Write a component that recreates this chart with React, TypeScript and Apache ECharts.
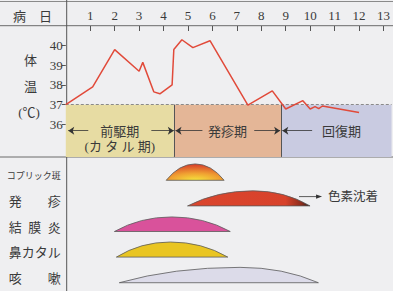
import React, { useEffect, useRef } from 'react';
import * as echarts from 'echarts';

// ---- data ----
const dayTicks = [1, 2, 3, 4, 5, 6, 7, 8, 9, 10, 11, 12, 13];
const tempTicks = [36, 37, 38, 39, 40];
const feverDays = [0, 1.1, 2, 3, 3.15, 3.6, 3.85, 4.35, 4.42, 4.75, 5.2, 5.9, 7.45, 8.45, 9, 9.7, 10, 10.2, 10.35, 10.5, 12];
const feverTemps = [37, 37.9, 39.8, 38.7, 39.15, 37.65, 37.55, 38, 39.8, 40.3, 39.9, 40.25, 36.97, 37.7, 36.78, 37.2, 36.78, 36.9, 36.8, 36.93, 36.6];

const phaseNames = ['前駆期\n(カ タ ル 期)', '発疹期', '回復期'];
const phaseStarts = [0, 4.42, 8.82];
const phaseEnds = [4.42, 8.82, 13.33];

const symptoms = ['コプリック斑', '発　　疹', '結\u2002膜\u2002炎', '鼻カタル', '咳　　嗽'];
const symptomStart = [4.09, 4.96, 1.98, 2.06, 2.18];
const symptomPeak = [5.27, 7.63, 4.32, 4.26, 7.1];
const symptomEnd = [6.45, 9.95, 6.7, 6.6, 10.29];
const symptomLevel = [0.64, 0.59, 0.57, 0.59, 0.6];
const symptomNotes = ['', '色素沈着', '', '', ''];

// ---- styles ----
const TXT = '#3a3a3a';
const FONT = "'Liberation Serif', 'Noto Sans CJK JP', serif";
const phaseColors = ['#e7dca3', '#e4b697', '#c9cbe1'];
const PHASE_FLOOR = 34.34;
const symptomFills: any[] = [
  {
    type: 'radial', x: 0.5, y: 1, r: 0.95,
    colorStops: [
      { offset: 0, color: '#f5e43c' },
      { offset: 0.45, color: '#f0a232' },
      { offset: 1, color: '#d9422a' },
    ],
  },
  {
    type: 'linear', x: 0, y: 0, x2: 1, y2: 0,
    colorStops: [
      { offset: 0, color: '#da452d' },
      { offset: 0.8, color: '#d8422b' },
      { offset: 0.93, color: '#8c2c1c' },
      { offset: 1, color: '#2c1a14' },
    ],
  },
  '#d9529b',
  '#e9c522',
  '#dcdbe9',
];

export default function App() {
  const ref = useRef<HTMLDivElement>(null);
  useEffect(() => {
    const chart = echarts.init(ref.current!, null, { renderer: 'svg' });

    const phaseArea = phaseNames.map((n, i) => [
      {
        name: n,
        xAxis: phaseStarts[i],
        yAxis: 37,
        itemStyle: { color: phaseColors[i] },
        label: i === 2 ? { offset: [5, 0] } : {},
      },
      { xAxis: phaseEnds[i], yAxis: PHASE_FLOOR },
    ]);

    const arrowY = 35.675;
    const arrowSegs: [number, number, boolean][] = [
      [0.1, 0.92, true],
      [3.5, 4.42, false],
      [4.49, 5.59, true],
      [7.71, 8.77, false],
      [8.86, 10.08, true],
    ];
    const arrowStyle = { color: '#333', width: 0.8, type: 'solid' };
    const markLines: any[] = [
      { yAxis: 37, lineStyle: { color: '#8a8a8a', width: 1, type: [3, 2] } },
      ...[phaseEnds[0], phaseEnds[1]].map((x) => [
        { coord: [x, 37], lineStyle: { color: '#555', width: 1, type: 'solid' } },
        { coord: [x, PHASE_FLOOR] },
      ]),
      ...arrowSegs.map(([a, b, left]) => [
        { coord: [a, arrowY], symbol: left ? 'arrow' : 'none', symbolSize: 6, lineStyle: arrowStyle },
        { coord: [b, arrowY], symbol: left ? 'none' : 'arrow', symbolSize: 6 },
      ]),
    ];

    const symptomData = symptoms.map((_, i) => [
      symptomStart[i], symptomPeak[i], symptomEnd[i], symptomLevel[i], i,
    ]);

    const option: any = {
      animation: false,
      backgroundColor: '#efeff1',
      textStyle: { fontFamily: FONT },
      grid: [
        { left: 65.8, top: 26, width: 327.2, height: 137.6 },
        { left: 65.8, top: 163, width: 327.2, height: 128 },
      ],
      xAxis: [
        {
          type: 'value', gridIndex: 0, position: 'top', min: 0, max: 13.33,
          axisLine: { show: false },
          splitLine: { show: false },
          axisTick: { show: true, inside: true, length: 5, customValues: dayTicks, lineStyle: { color: '#555' } },
          axisLabel: { customValues: dayTicks, margin: 4, fontSize: 13, color: TXT, fontFamily: FONT },
        },
        { type: 'value', gridIndex: 1, min: 0, max: 13.33, show: false },
      ],
      yAxis: [
        {
          type: 'value', gridIndex: 0, min: 34, max: 41,
          axisLine: { show: false },
          splitLine: { show: false },
          axisTick: { show: true, length: 4, customValues: tempTicks, lineStyle: { color: '#555' } },
          axisLabel: { customValues: tempTicks, margin: 3, fontSize: 13, color: TXT, fontFamily: FONT },
        },
        {
          type: 'category', gridIndex: 1, inverse: true, data: symptoms,
          axisLine: { show: false }, axisTick: { show: false }, splitLine: { show: false },
          axisLabel: {
            margin: 5, fontSize: 13, color: TXT, fontFamily: FONT,
            formatter: (v: string) => (v === 'コプリック斑' ? `{s|${v}}` : v),
            rich: { s: { fontSize: 9, color: TXT, fontFamily: FONT } },
          },
        },
      ],
      graphic: [
        { type: 'line', shape: { x1: 0, y1: 1.5, x2: 393, y2: 1.5 }, style: { stroke: '#8a8a8a', lineWidth: 1 } },
        { type: 'line', shape: { x1: 0, y1: 25.7, x2: 393, y2: 25.7 }, style: { stroke: '#6a6a6a', lineWidth: 1 } },
        { type: 'line', shape: { x1: 0, y1: 157, x2: 393, y2: 157 }, style: { stroke: '#6a6a6a', lineWidth: 1 } },
        { type: 'line', shape: { x1: 66.7, y1: 0, x2: 66.7, y2: 291 }, style: { stroke: '#555', lineWidth: 1 } },
        { type: 'text', x: 13, y: 16, style: { text: '病　日', fontSize: 13, fill: TXT, fontFamily: FONT, verticalAlign: 'middle' } },
        { type: 'text', x: 30.5, y: 60, style: { text: '体', fontSize: 13, fill: TXT, fontFamily: FONT, align: 'center', verticalAlign: 'middle' } },
        { type: 'text', x: 30.5, y: 86, style: { text: '温', fontSize: 13, fill: TXT, fontFamily: FONT, align: 'center', verticalAlign: 'middle' } },
        { type: 'text', x: 29, y: 112, style: { text: '(℃)', fontSize: 13, fill: TXT, fontFamily: FONT, align: 'center', verticalAlign: 'middle' } },
      ],
      series: [
        {
          type: 'line',
          xAxisIndex: 0, yAxisIndex: 0,
          data: feverDays.map((d, i) => [d, feverTemps[i]]),
          showSymbol: false,
          symbol: 'none',
          z: 5,
          lineStyle: { color: '#e14a3a', width: 1.5 },
          markArea: {
            silent: true,
            itemStyle: { borderWidth: 0 },
            label: {
              show: true, position: 'insideTop', distance: 19, fontSize: 13, lineHeight: 15,
              color: TXT, fontFamily: FONT, formatter: '{b}',
            },
            data: phaseArea,
          },
          markLine: {
            silent: true,
            symbol: 'none',
            label: { show: false },
            data: markLines,
          },
        },
        {
          type: 'custom',
          xAxisIndex: 1, yAxisIndex: 1,
          data: symptomData,
          encode: { x: [0, 1, 2], y: 4 },
          renderItem: (params: any, api: any) => {
            const s = api.value(0), p = api.value(1), e = api.value(2), h = api.value(3), row = api.value(4);
            const c0 = api.coord([s, row]);
            const band = api.size([0, 1])[1];
            const yb = c0[1] + band * 0.176;
            const top = yb - h * band;
            const x0 = c0[0];
            const xp = api.coord([p, row])[0];
            const x1 = api.coord([e, row])[0];
            const d = `M${x0} ${yb} Q${x0 + (xp - x0) * 0.45} ${top} ${xp} ${top} Q${xp + (x1 - xp) * 0.55} ${top} ${x1} ${yb} Z`;
            const children: any[] = [
              {
                type: 'path',
                shape: { pathData: d },
                style: { fill: symptomFills[params.dataIndex], stroke: '#5a5a5a', lineWidth: 0.8 },
              },
            ];
            const note = symptomNotes[params.dataIndex];
            if (note) {
              const ay = yb - 9.3;
              const ax0 = x1 - 11, ax1 = x1 + 12;
              children.push(
                { type: 'line', shape: { x1: ax0, y1: ay, x2: ax1 - 4, y2: ay }, style: { stroke: '#333', lineWidth: 0.8 } },
                { type: 'polygon', shape: { points: [[ax1, ay], [ax1 - 6, ay - 2.2], [ax1 - 6, ay + 2.2]] }, style: { fill: '#333' } },
                { type: 'text', style: { text: note, x: ax1 + 6, y: ay, fill: TXT, fontSize: 12.5, fontFamily: FONT, verticalAlign: 'middle', align: 'left' } },
              );
            }
            return { type: 'group', children };
          },
        },
      ],
    };
    chart.setOption(option);
    return () => chart.dispose();
  }, []);

  return <div ref={ref} style={{ position: 'fixed', left: 0, top: 0, width: 393, height: 291 }} />;
}
